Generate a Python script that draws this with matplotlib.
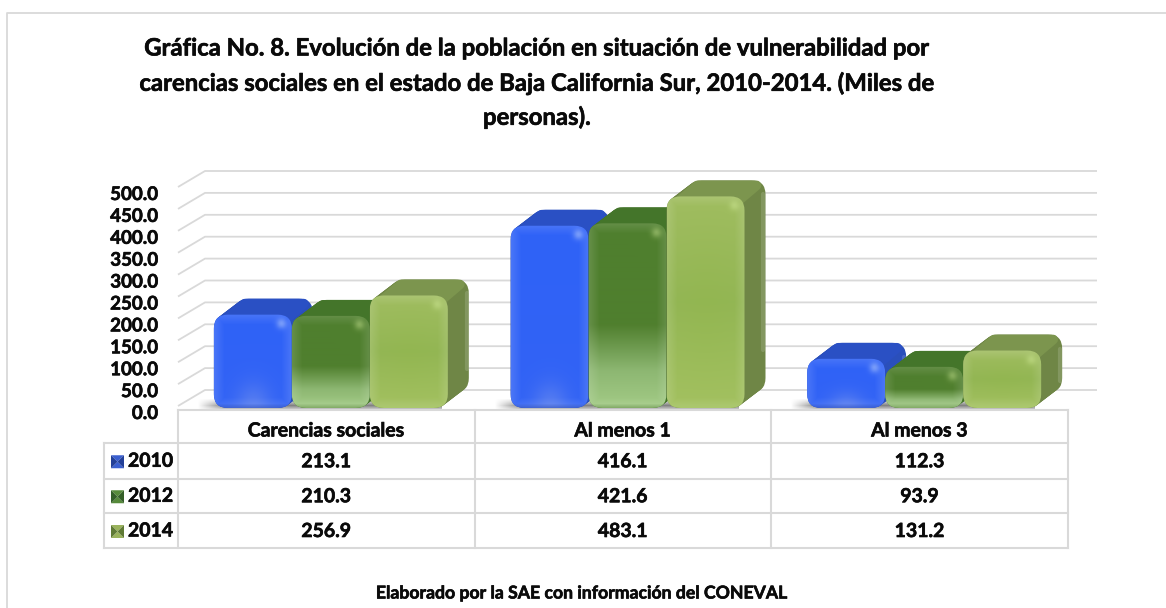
import numpy as np
import matplotlib
matplotlib.use("Agg")
import matplotlib.pyplot as plt
import matplotlib.patheffects as pe
from matplotlib.patches import FancyBboxPatch, Polygon
from matplotlib.colors import to_rgb
from matplotlib.transforms import ScaledTranslation

categories = ["Carencias sociales", "Al menos 1", "Al menos 3"]
years = ["2010", "2012", "2014"]
v2010 = [213.1, 416.1, 112.3]
v2012 = [210.3, 421.6, 93.9]
v2014 = [256.9, 483.1, 131.2]
yticks = [0, 50, 100, 150, 200, 250, 300, 350, 400, 450, 500]
title = ["Gráfica No. 8. Evolución de la población en situación de vulnerabilidad por",
         "carencias sociales en el estado de Baja California Sur, 2010-2014. (Miles de",
         "personas)."]
source = "Elaborado por la SAE con información del CONEVAL"

plt.rcParams['font.family'] = ['Lato', 'DejaVu Sans']
W, H = 1166, 608
fig = plt.figure(figsize=(W/100, H/100), dpi=100, facecolor='white')
INK = '#0a0a0a'
EMB = [pe.withStroke(linewidth=0.45, foreground=INK)]

L, R, Y0, Y500 = 178, 1068, 408, 189
ax = fig.add_axes([L/W, 1-Y0/H, (R-L)/W, (Y0-Y500)/H], facecolor='none', zorder=2)
ax.set_xlim(-0.5, 2.5)
ax.set_ylim(0, 500)
for s in ax.spines.values():
    s.set_visible(False)
ax.set_xticks([])
ax.set_yticks(yticks, [f"{t:.1f}" for t in yticks], fontsize=13.5, fontweight='bold', color=INK)
ax.tick_params(axis='y', length=0, pad=14.4)
for lab in ax.get_yticklabels():
    lab.set_transform(lab.get_transform() + ScaledTranslation(0, -4/100, fig.dpi_scale_trans))
    lab.set_path_effects(EMB)

PX = 3 / (R - L)
PY = 500 / (Y0 - Y500)

GRID = '#d9d9d9'
for t in yticks:
    ax.plot([-0.5, -0.5 + 27*PX, 2.5 + 29*PX], [t + 2*PY, t + 18*PY, t + 18*PY],
            color=GRID, lw=1.3, clip_on=False, zorder=1, solid_capstyle='butt')

STY = [
    dict(top='#2a50c4', side='#2a4fbb', rim='#2547b8',
         stops=[(0, '#3f6cf2'), (0.02, '#3263f5'), (1, '#2f62f7')]),
    dict(top='#44752a', side='#44752a', rim='#5c8a3f',
         stops=[(0, '#a3cb86'), (0.2, '#8db772'), (0.45, '#507f2e'), (1, '#4f7f2e')]),
    dict(top='#7c954e', side='#6f8646', rim='#a8c868',
         stops=[(0, '#a3c160'), (0.5, '#93b654'), (1, '#a0bd60')]),
]

def front_img(h, w, sty, idx):
    hh, ww = int(max(h, 4)), int(w)
    fr = np.linspace(1, 0, hh)
    pos = [s[0] for s in sty['stops']]
    cols = np.array([to_rgb(s[1]) for s in sty['stops']])
    col = np.stack([np.interp(fr, pos, cols[:, i]) for i in range(3)], axis=-1)
    img = np.repeat(col[:, None, :], ww, axis=1)
    yy, xx = np.mgrid[0:hh, 0:ww]
    d = np.minimum.reduce([xx, ww-1-xx, yy, hh-1-yy]).astype(float)
    bev = np.clip(1 - d/10, 0, 1)[..., None]
    img = img*(1-0.12*bev) + 0.12*bev*np.array(to_rgb('#ffffff'))
    if idx == 0:
        gl = np.exp(-((xx-ww/2)/(ww*0.22))**2 - ((yy-hh+2)/(min(hh, 80)*0.28))**2)[..., None]
        img = img*(1-0.3*gl) + 0.3*gl*np.array(to_rgb('#a9b8e6'))
    if idx == 2:
        gl = np.exp(-((xx-ww*0.5)/(ww*0.3))**2 - ((yy-hh*0.5)/(hh*0.3))**2)[..., None]
        img = img*(1-0.12*gl) + 0.12*gl*np.array(to_rgb('#8fb63e'))
    sp = np.exp(-((xx-ww+11)/5.0)**2 - ((yy-9)/5.0)**2)[..., None]
    img = img*(1-0.4*sp) + 0.4*sp*np.array(to_rgb('#dfeeff' if idx == 0 else '#d8f0a0'))
    rimm = np.clip(1 - (hh-1-yy)/4, 0, 1)[..., None]
    img = img*(1-0.5*rimm) + 0.5*rimm*np.array(to_rgb(sty['rim']))
    return np.clip(img, 0, 1)

def rbox(x, y, w, h, r, **kw):
    return FancyBboxPatch((x, y), w, h, boxstyle=f"round,pad=0,rounding_size={r*PX}",
                          mutation_aspect=PY/PX, **kw)

BW = 78*PX
DX, DY = 21*PX, 16*PY
SHIFT = 4.5*PX
RAD = 14
series = [v2010, v2012, v2014]
z = 3
for c in range(3):
    gx0 = c + SHIFT - 1.5*BW
    shimg = np.zeros((14, 60, 4))
    shimg[..., :3] = 0.42
    ramp = np.clip(np.linspace(0, 1, 60)*9, 0, 1)
    vert = np.interp(np.arange(14), [0, 7, 11, 13], [0, 0.85, 0.3, 0])
    shimg[..., 3] = vert[:, None] * ramp[None, :]
    ax.imshow(shimg, extent=[gx0-18*PX, gx0+3*BW-6*PX, -4*PY, 10*PY], aspect='auto',
              origin='upper', zorder=z, clip_on=False, interpolation='bilinear')
    z += 1
    for s in range(3):
        v = series[s][c]
        sty = STY[s]
        x0 = gx0 + s*BW
        for k in np.linspace(1, 0, 16):
            ax.add_patch(rbox(x0 + k*DX, k*DY, BW, v, RAD, fc=sty['side'], ec='none',
                              zorder=z, clip_on=False))
        ax.plot([x0+BW+DX-2*PX]*2, [DY+0.2*v, DY+v-14*PY], color='#ffffff', alpha=0.14, lw=3,
                zorder=z, clip_on=False, solid_capstyle='round')
        ax.add_patch(Polygon([(x0+11*PX, v-6*PY), (x0+BW-8*PX, v-6*PY),
                              (x0+BW+DX-9*PX, v+DY-5*PY), (x0+DX+10*PX, v+DY-5*PY)],
                             closed=True, fc=sty['top'], ec=sty['top'], lw=7, joinstyle='round',
                             zorder=z, clip_on=False))
        clip = rbox(x0, 0, BW, v, RAD, fc='none', ec='none', transform=ax.transData)
        ax.add_patch(clip)
        im = ax.imshow(front_img(v/PY, 78, sty, s), extent=[x0, x0+BW, 0, v], aspect='auto',
                       origin='upper', zorder=z+0.5, interpolation='bilinear')
        im.set_clip_path(clip)
        z += 1
ax.set_xlim(-0.5, 2.5)
ax.set_ylim(0, 500)

ov = fig.add_axes([0, 0, 1, 1], facecolor='none', zorder=3)
ov.set_xlim(0, W); ov.set_ylim(H, 0); ov.axis('off')
ov.plot([7, 7, W+5], [H+5, 12.5, 12.5], color=GRID, lw=1.3, clip_on=False)
xs = [178, 474.5, 771, 1068]
ys = [410, 443, 478.5, 513, 548]
lc = dict(color=GRID, lw=1.5, solid_capstyle='projecting')
ov.plot([178, 1068], [ys[0]]*2, **lc)
for yy_ in ys[1:]:
    ov.plot([104, 1068], [yy_]*2, **lc)
ov.plot([104, 104], [ys[1], ys[4]], **lc)
for x in xs:
    ov.plot([x, x], [ys[0], ys[4]], **lc)

tkw = dict(ha='center', va='center', fontsize=14, fontweight='bold', color=INK, path_effects=EMB)
for i, cat in enumerate(categories):
    cx = (xs[i] + xs[i+1])/2
    ov.text(cx, 431, cat, **tkw)
    for j in range(3):
        ov.text(cx, (ys[j+1]+ys[j+2])/2 + 1, f"{series[j][i]:.1f}", **tkw)
keys = [('#3a5fd0', '#234098'), ('#568a3a', '#345f28'), ('#9ab35c', '#5f7a35')]
for j, yr in enumerate(years):
    cy = (ys[j+1]+ys[j+2])/2 + 0.5
    ov.text(128, cy, yr, ha='left', va='center', fontsize=14, fontweight='bold', color=INK, path_effects=EMB)
    a, b = 111, cy-6
    sz = 13
    lt, dk = keys[j]
    c_ = (a+sz/2, b+sz/2)
    ov.add_patch(Polygon([(a, b), (a+sz, b), c_], fc=lt, ec='none'))
    ov.add_patch(Polygon([(a, b+sz), (a+sz, b+sz), c_], fc=lt, ec='none'))
    ov.add_patch(Polygon([(a, b), (a, b+sz), c_], fc=dk, ec='none'))
    ov.add_patch(Polygon([(a+sz, b), (a+sz, b+sz), c_], fc=dk, ec='none'))

for line, y in zip(title, [48, 83, 117]):
    ov.text(537, y, line, ha='center', va='center', fontsize=17.2, fontweight='bold', color=INK, path_effects=EMB)
ov.text(582, 593, source, ha='center', va='center', fontsize=12.7, fontweight='bold', color=INK, path_effects=EMB)

fig.savefig('out.png', dpi=100, facecolor='white')
